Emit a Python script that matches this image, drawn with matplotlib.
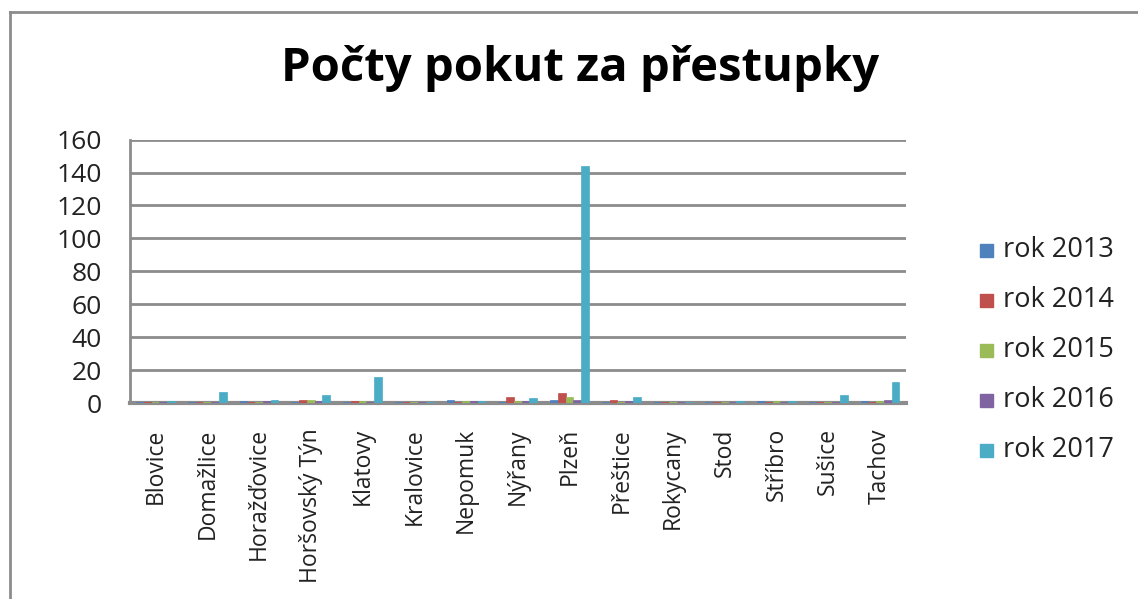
import matplotlib.pyplot as plt
import numpy as np
from matplotlib.patches import Rectangle

towns = ["Blovice", "Domažlice", "Horažďovice", "Horšovský Týn", "Klatovy", "Kralovice",
         "Nepomuk", "Nýřany", "Plzeň", "Přeštice", "Rokycany", "Stod", "Stříbro",
         "Sušice", "Tachov"]
years = ["rok 2013", "rok 2014", "rok 2015", "rok 2016", "rok 2017"]
rok_2013 = [0, 0, 1, 0, 0, 0, 2, 0, 2, 0, 0, 0, 1, 0, 1]
rok_2014 = [0, 0, 0, 2, 1, 0, 0, 4, 6, 2, 0, 0, 0, 0, 0]
rok_2015 = [0, 0, 0, 2, 1, 0, 1, 1, 4, 0, 0, 0, 1, 0, 1]
rok_2016 = [0, 0, 1, 1, 0, 0, 1, 1, 2, 1, 0, 0, 0, 0, 2]
rok_2017 = [1, 7, 2, 5, 16, 0, 1, 3, 144, 4, 0, 1, 1, 5, 13]
series = [rok_2013, rok_2014, rok_2015, rok_2016, rok_2017]
colors = ["#4F81BD", "#C0504D", "#9BBB59", "#8064A2", "#4BACC6"]

plt.rcParams["font.family"] = ["Open Sans", "DejaVu Sans"]

fig = plt.figure(figsize=(11.38, 5.99), dpi=100)
# outer chart border (left/top visible)
fig.add_artist(plt.Line2D([0.009, 0.009], [0, 0.98], color="#8c8c8c", lw=2))
fig.add_artist(plt.Line2D([0.009, 1.0], [0.98, 0.98], color="#8c8c8c", lw=2))

ax = fig.add_axes([0.114, 0.327, 0.682, 0.44])
x = np.arange(len(towns))
w = 0.15
for i, (vals, c) in enumerate(zip(series, colors)):
    ax.bar(x + (i - 2) * w, np.maximum(vals, 0.6), width=w, color=c, label=years[i],
           edgecolor=c, linewidth=0.5, zorder=3)

ax.set_xlim(-0.5, len(towns) - 0.5)
ax.set_ylim(0, 160)
ax.set_yticks(range(0, 161, 20))
ax.yaxis.grid(True, color="#8c8c8c", lw=2, zorder=0)
for s in ["top", "right"]:
    ax.spines[s].set_visible(False)
ax.spines["left"].set_color("#8c8c8c")
ax.spines["left"].set_linewidth(2)
ax.spines["bottom"].set_color("#8c8c8c")
ax.spines["bottom"].set_linewidth(3)
ax.tick_params(axis="both", length=0)
ax.tick_params(axis="y", pad=20, labelsize=19, labelcolor="#222222")
ax.set_xticks(x)
ax.set_xticklabels(towns, rotation=90, fontsize=16.5, color="#222222")
ax.tick_params(axis="x", pad=18)

fig.text(0.51, 0.886, "Počty pokut za přestupky", ha="center", va="center",
         fontsize=34, fontweight="bold")

# legend, drawn by hand to match spacing
for i, (label, c) in enumerate(zip(years, colors)):
    yc = 1 - (250 + 50 * i) / 599
    fig.add_artist(Rectangle((980 / 1138, yc - 6.5 / 599), 13 / 1138, 13 / 599,
                             color=c, transform=fig.transFigure))
    fig.text(1003 / 1138, yc, label, ha="left", va="center", fontsize=19.5,
             color="#222222")

fig.savefig("out.png", dpi=100)
